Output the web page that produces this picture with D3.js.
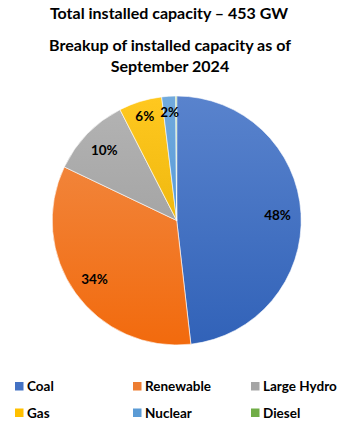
<!DOCTYPE html>
<html><head><meta charset="utf-8">
<script src="https://cdn.jsdelivr.net/npm/d3@7"></script>
<style>html,body{margin:0;padding:0;background:#fff;}svg{display:block;}</style>
</head><body>
<script>
const categories = ["Coal","Renewable","Large Hydro","Gas","Nuclear","Diesel"];
const shares = [48.2, 33.9, 10.4, 5.6, 1.8, 0.13];
const labels = ["48%","34%","10%","6%","2%",""];
const colors = ["#4472c4","#ed7d31","#a5a5a5","#ffc000","#5b9bd5","#70ad47"];
const titleLines = ["Total installed capacity \u2013 453 GW"];
const subtitleLines = ["Breakup of installed capacity as of","September 2024"];

const W = 360, H = 437;
const cx = 176.7, cy = 220.5, R = 124.5;
const font = "Lato, 'Open Sans', sans-serif";

const svg = d3.select("body").append("svg").attr("width", W).attr("height", H);
const defs = svg.append("defs");

function shade(c, dl, ds) {
  const h = d3.hsl(c); h.l = Math.max(0, Math.min(1, h.l + dl)); h.s = Math.min(1, h.s + ds); return h.formatHex();
}
colors.forEach((c, i) => {
  const g = defs.append("linearGradient").attr("id", "g" + i)
    .attr("gradientUnits", "userSpaceOnUse")
    .attr("x1", 0).attr("y1", -R).attr("x2", 0).attr("y2", R);
  g.append("stop").attr("offset", "0%").attr("stop-color", shade(c, 0.06, 0.02));
  g.append("stop").attr("offset", "100%").attr("stop-color", shade(c, -0.06, 0.06));
});

svg.append("text").attr("x", 169).attr("y", 18.5).attr("text-anchor", "middle")
  .style("font-family", font).style("font-weight", "bold").style("font-size", "16px").attr("fill", "#000")
  .text(titleLines[0]);
svg.selectAll("text.sub").data(subtitleLines).enter().append("text").attr("class", "sub")
  .attr("x", 170).attr("y", (d, i) => 50.5 + i * 21.5).attr("text-anchor", "middle")
  .style("font-family", font).style("font-weight", "bold").style("font-size", "16px").attr("fill", "#000")
  .text(d => d);

const data = categories.map((c, i) => ({ cat: c, v: shares[i], label: labels[i], i }));
const pie = d3.pie().value(d => d.v).sort(null);
const arcs = pie(data);
const arc = d3.arc().innerRadius(0).outerRadius(R);

const g = svg.append("g").attr("transform", `translate(${cx},${cy})`);
g.selectAll("path").data(arcs).enter().append("path")
  .attr("d", arc).attr("fill", d => `url(#g${d.data.i})`)
  .attr("stroke", "#fff").attr("stroke-width", 0.6).attr("stroke-linejoin", "round");

g.selectAll("text").data(arcs.filter(d => d.data.label)).enter().append("text")
  .attr("transform", d => {
    const lr = d.data.v < 8 ? 109 : 101;
    const a = (d.startAngle + d.endAngle) / 2;
    return `translate(${lr * Math.sin(a)},${-lr * Math.cos(a)})`;
  })
  .attr("text-anchor", "middle").attr("dy", "0.36em")
  .style("font-family", font).style("font-weight", "bold").style("font-size", "13.5px").attr("fill", "#000")
  .text(d => d.data.label);

const legX = [15, 133, 251], legY = [386.5, 413];
const leg = svg.selectAll("g.leg").data(categories).enter().append("g").attr("class", "leg")
  .attr("transform", (d, i) => `translate(${legX[i % 3]},${legY[Math.floor(i / 3)]})`);
leg.append("rect").attr("x", 0).attr("y", -4.5).attr("width", 8.5).attr("height", 8.5).attr("fill", (d, i) => colors[i]);
leg.append("text").attr("x", 12).attr("y", 0).attr("dy", "0.36em")
  .style("font-family", font).style("font-weight", "bold").style("font-size", "13.5px").attr("fill", "#000")
  .text(d => d);
</script>
</body></html>
